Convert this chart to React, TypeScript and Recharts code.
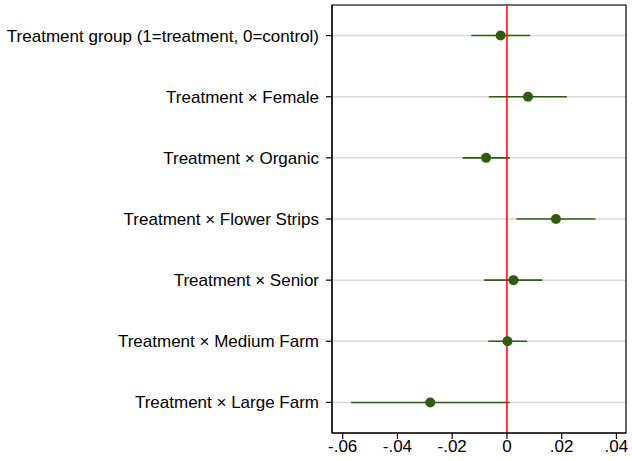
import React from "react";
import {
  ScatterChart,
  Scatter,
  XAxis,
  YAxis,
  CartesianGrid,
  ReferenceLine,
  ReferenceArea,
  ErrorBar,
} from "recharts";

// ---- data ----
const LABELS = [
  "Treatment group (1=treatment, 0=control)",
  "Treatment × Female",
  "Treatment × Organic",
  "Treatment × Flower Strips",
  "Treatment × Senior",
  "Treatment × Medium Farm",
  "Treatment × Large Farm",
];
const COEF = [-0.0023, 0.0077, -0.0076, 0.0179, 0.0024, 0.0002, -0.028];
const LO = [-0.013, -0.0066, -0.0162, 0.0035, -0.0083, -0.0068, -0.0569];
const HI = [0.0085, 0.0219, 0.001, 0.0323, 0.0129, 0.0074, 0.001];

const X_TICKS = [-0.06, -0.04, -0.02, 0, 0.02, 0.04];
const X_TICK_LABELS = ["-.06", "-.04", "-.02", "0", ".02", ".04"];
const X_DOMAIN: [number, number] = [-0.0639, 0.0435];

const GREEN = "#2f5c11";
const FONT = "'Liberation Sans', Arial, Helvetica, sans-serif";

const rows = LABELS.map((label, i) => ({
  pos: i + 1,
  coef: COEF[i],
  err: [COEF[i] - LO[i], HI[i] - COEF[i]],
}));

export default function App() {
  return (
    <div style={{ position: "absolute", left: 0, top: 0, fontFamily: FONT }}>
      <ScatterChart
        width={632}
        height={461}
        margin={{ top: 5, right: 6, bottom: 0, left: 0 }}
      >
        <CartesianGrid
          vertical={false}
          stroke="#d9d9d9"
          strokeWidth={1.5}
        />
        <XAxis
          type="number"
          dataKey="coef"
          domain={X_DOMAIN}
          ticks={X_TICKS}
          allowDataOverflow
          tickFormatter={(v: number) => X_TICK_LABELS[X_TICKS.indexOf(v)] ?? String(v)}
          tick={{ fill: "#000", fontSize: 17, fontFamily: FONT }}
          tickLine={{ stroke: "#000", strokeWidth: 1.2 }}
          axisLine={{ stroke: "#000", strokeWidth: 1.2 }}
          tickSize={6}
          tickMargin={1}
          height={28}
        />
        <YAxis
          type="number"
          dataKey="pos"
          domain={[0.5, 7.5]}
          ticks={[1, 2, 3, 4, 5, 6, 7]}
          reversed
          allowDataOverflow
          tickFormatter={(v: number) => LABELS[v - 1] ?? ""}
          tick={{ fill: "#000", fontSize: 17, fontFamily: FONT }}
          tickLine={{ stroke: "#000", strokeWidth: 1.2 }}
          axisLine={{ stroke: "#000", strokeWidth: 1.2 }}
          tickSize={6}
          tickMargin={7}
          width={332}
        />
        <ReferenceArea
          x1={X_DOMAIN[0]}
          x2={X_DOMAIN[1]}
          y1={0.5}
          y2={7.5}
          fill="none"
          stroke="#000"
          strokeWidth={1.2}
        />
        <Scatter
          data={rows}
          fill={GREEN}
          isAnimationActive={false}
          shape={(p: any) => (
            <circle cx={p.cx} cy={p.cy} r={5} fill={GREEN} />
          )}
        >
          <ErrorBar
            dataKey="err"
            direction="x"
            width={0}
            stroke={GREEN}
            strokeWidth={1.6}
            isAnimationActive={false}
          />
        </Scatter>
        <ReferenceLine x={0} stroke="#ff0000" strokeWidth={1.5} />
      </ScatterChart>
    </div>
  );
}
